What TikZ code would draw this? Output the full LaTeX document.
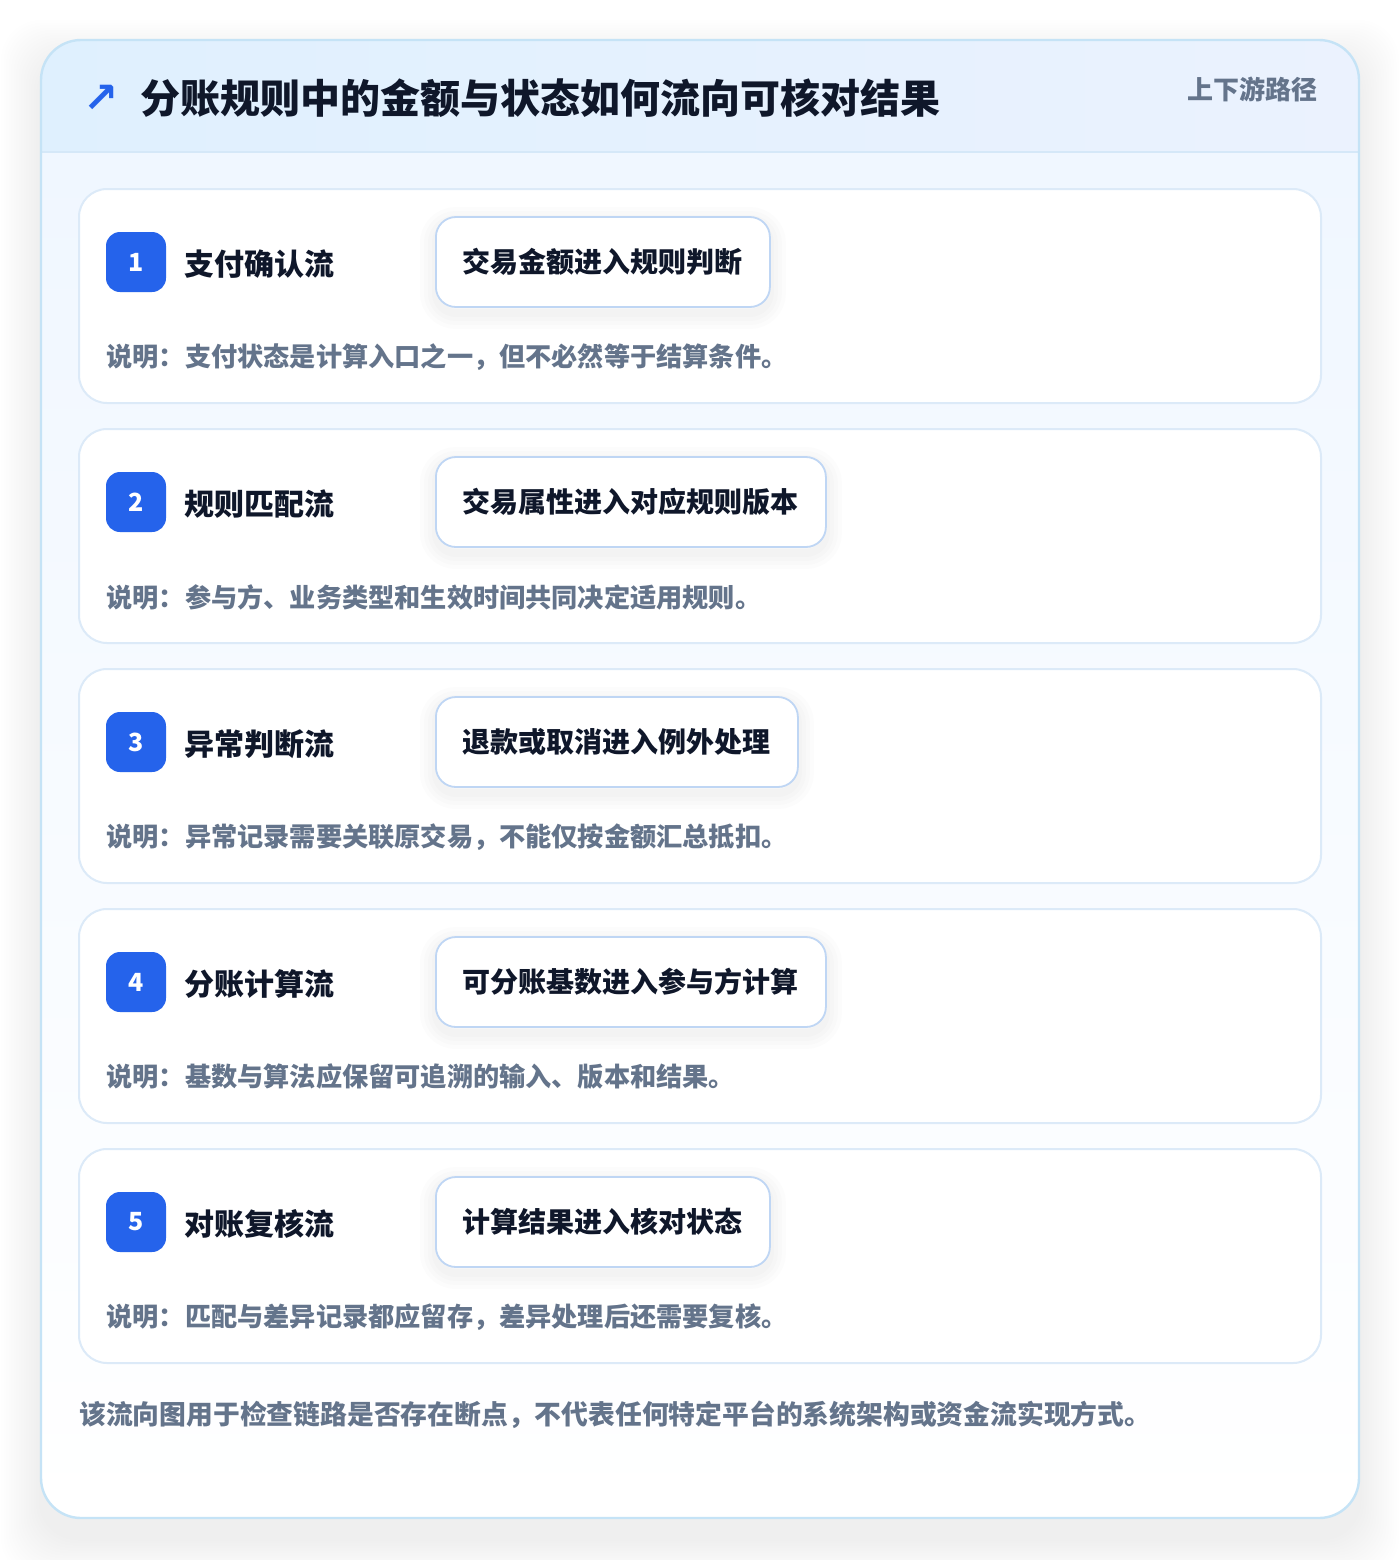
\documentclass[tikz,border=0pt]{standalone}
\usepackage{fontspec}
\setmainfont{Noto Sans CJK SC}
\newfontfamily\symfont{DejaVu Sans}

\definecolor{accent}{HTML}{2563EB}
\definecolor{ink}{HTML}{0F172A}
\definecolor{muted}{HTML}{64748B}
\definecolor{outerline}{HTML}{C5E3F6}
\definecolor{hdrL}{HTML}{DFF0FE}
\definecolor{hdrR}{HTML}{EBF2FE}
\definecolor{hdrline}{HTML}{D5E8F8}
\definecolor{bodyT}{HTML}{F0F7FF}
\definecolor{cardline}{HTML}{DCEAF8}
\definecolor{pillline}{HTML}{BFD6F4}

\begin{document}
\begin{tikzpicture}[x=0.5pt,y=-0.5pt,
        halo/.style={preaction={draw=black,draw opacity=0.012,line width=#1,
            transform canvas={yshift=-3pt}}},
        stepcard/.style={draw=cardline,line width=1pt,fill=white,
            rounded corners=14pt},
        badge/.style={fill=accent,text=white,rounded corners=7pt,
            minimum size=30pt,inner sep=0pt,
            font=\bfseries\fontsize{12.5pt}{12.5pt}\selectfont},
        steptitle/.style={anchor=west,inner sep=0pt,text=ink,
            font=\bfseries\fontsize{15pt}{15pt}\selectfont},
        pill/.style={anchor=west,draw=pillline,line width=0.9pt,fill=white,
            rounded corners=10pt,minimum height=45pt,inner xsep=13.5pt,
            text=ink,font=\bfseries\fontsize{14pt}{14pt}\selectfont,
            halo=16pt,halo=12pt,halo=8pt,halo=4pt},
        note/.style={anchor=west,inner sep=0pt,text=muted,
            font=\bfseries\fontsize{13.1pt}{13.1pt}\selectfont}]
\useasboundingbox (0,0) rectangle (1400,1560);
\fill[white] (0,0) rectangle (1400,1560);

% outer card and its shadow
\foreach \e in {40,37.5,...,2.5}
    \fill[black,opacity=0.0055,rounded corners=20pt]
        (41-\e,60-\e) rectangle (1359+\e,1538+\e);
\fill[white,rounded corners=20pt] (41,40) rectangle (1359,1518);
\begin{scope}
\clip[rounded corners=20pt] (41,40) rectangle (1359,1518);
\shade[left color=hdrL,right color=hdrR] (41,40) rectangle (1359,152);
\shade[top color=bodyT,bottom color=white] (41,152) rectangle (1359,1518);
\end{scope}
\draw[hdrline,line width=1pt] (41,152) -- (1359,152);
\draw[outerline,line width=1.2pt,rounded corners=20pt]
    (41,40) rectangle (1359,1518);

% header
\node[text=accent,inner sep=0pt,
    font=\symfont\bfseries\fontsize{21pt}{21pt}\selectfont]
    (icon) at (101,99) {↗};
\node[anchor=west,inner sep=0pt,text=ink,
    font=\bfseries\fontsize{20pt}{20pt}\selectfont]
    (title) at (140,98) {分账规则中的金额与状态如何流向可核对结果};
\node[anchor=east,inner sep=0pt,text=muted,
    font=\bfseries\fontsize{13pt}{13pt}\selectfont]
    (route) at (1318,89) {上下游路径};

% steps
\foreach \n/\name/\flow/\remark [count=\i from 0] in {
    1/支付确认流/交易金额进入规则判断/说明：支付状态是计算入口之一，但不必然等于结算条件。,
    2/规则匹配流/交易属性进入对应规则版本/说明：参与方、业务类型和生效时间共同决定适用规则。,
    3/异常判断流/退款或取消进入例外处理/说明：异常记录需要关联原交易，不能仅按金额汇总抵扣。,
    4/分账计算流/可分账基数进入参与方计算/说明：基数与算法应保留可追溯的输入、版本和结果。,
    5/对账复核流/计算结果进入核对状态/说明：匹配与差异记录都应留存，差异处理后还需要复核。}{
    \pgfmathsetmacro\cardtop{189+240*\i}
    \draw[stepcard] (79,\cardtop) rectangle ++(1242,214);
    \node[badge] (badge\n) at (136,\cardtop+73) {\n};
    \node[steptitle] (name\n) at (184,\cardtop+75) {\name};
    \node[pill] (flow\n) at (435,\cardtop+73) {\flow};
    \node[note] (remark\n) at (106,\cardtop+168) {\remark};
}

% footer
\node[note,font=\bfseries\fontsize{13.4pt}{13.4pt}\selectfont] (footer)
    at (79,1415)
    {该流向图用于检查链路是否存在断点，不代表任何特定平台的系统架构或资金流实现方式。};
\end{tikzpicture}
\end{document}
